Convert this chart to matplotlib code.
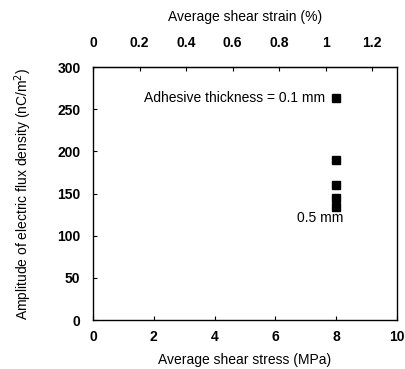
import matplotlib.pyplot as plt

plt.rcParams['font.family'] = ['Liberation Sans', 'DejaVu Sans']

# datos
tension = [8, 8, 8, 8, 8]               # MPa
amplitud = [263, 190, 160, 145, 134]    # nC/m^2
ticks_x = [0, 2, 4, 6, 8, 10]
ticks_y = [0, 50, 100, 150, 200, 250, 300]
ticks_def = [0, 0.2, 0.4, 0.6, 0.8, 1, 1.2]
etiq_def = ['0', '0.2', '0.4', '0.6', '0.8', '1', '1.2']
factor_def = 0.1307  # % de deformacion por MPa

fig = plt.figure(figsize=(4.06, 3.69), dpi=100)
ax = fig.add_axes([93 / 406, 1 - 320 / 369, 304 / 406, 253 / 369])

ax.plot(tension, amplitud, 's', color='black', markersize=5.5)

ax.set_xlim(0, 10)
ax.set_ylim(0, 300)
ax.set_xticks(ticks_x)
ax.set_yticks(ticks_y)
ax.tick_params(axis='x', direction='in', length=3, labelsize=10, pad=7)
ax.tick_params(axis='y', direction='in', length=3, labelsize=10, pad=9)
for lab in ax.get_xticklabels() + ax.get_yticklabels():
    lab.set_fontweight('bold')
ax.set_xlabel('Average shear stress (MPa)', fontsize=10, labelpad=7)
ax.set_ylabel('Amplitude of electric flux density (nC/m$^2$)', fontsize=10, labelpad=17)

ax2 = ax.secondary_xaxis('top', functions=(lambda x: x * factor_def, lambda s: s / factor_def))
ax2.set_xticks(ticks_def)
ax2.set_xticklabels(etiq_def, fontweight='bold')
ax2.tick_params(direction='in', length=3, labelsize=10, pad=12)
ax2.set_xlabel('Average shear strain (%)', fontsize=10, labelpad=11)

ax.text(7.63, 263, 'Adhesive thickness = 0.1 mm', ha='right', va='center', fontsize=10)
ax.text(8.22, 121, '0.5 mm', ha='right', va='center', fontsize=10)

for s in ax.spines.values():
    s.set_linewidth(1.0)

fig.savefig('out.png', dpi=100, facecolor='white')
